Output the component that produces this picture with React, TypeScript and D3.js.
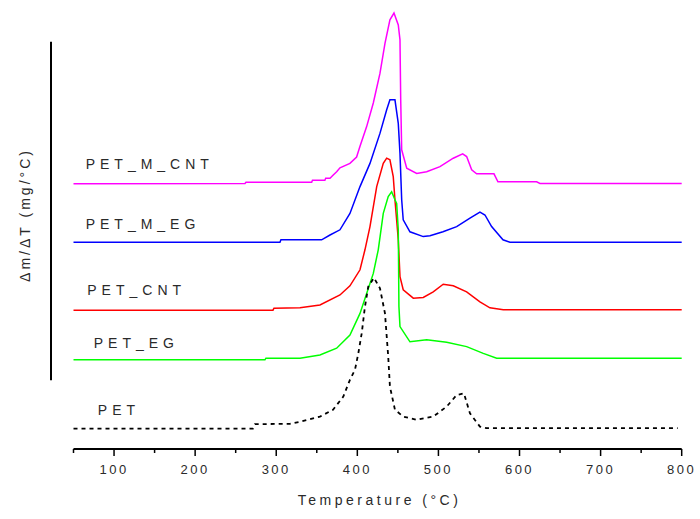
import React from "react";
import * as d3 from "d3";

type P = [number, number];

// Temperature (°C), dm/dT (arbitrary offset units)
const PET_M_CNT: P[] = [
  [50, 6.63], [261.5, 6.64], [262.7, 6.67], [343.7, 6.67], [344.7, 6.72], [360, 6.72], [361, 6.77],
  [366.3, 6.77], [370.3, 6.85], [374.5, 6.93], [378.6, 7.03], [390.9, 7.14], [399.1, 7.3], [403.3, 7.57],
  [411.5, 8.06], [419.7, 8.65], [427.9, 9.39], [434.1, 10.14], [440.2, 10.73], [445.2, 10.9], [450.5, 10.6],
  [452.6, 10.23], [453.5, 8.73], [454.7, 7.48], [460.9, 7.02], [473.2, 6.89], [485.5, 6.93], [501.9, 7.06],
  [518.3, 7.27], [529.9, 7.38], [534.8, 7.31], [541, 6.98], [547.1, 6.88], [568.5, 6.88], [573.4, 6.68],
  [621.1, 6.68], [625.2, 6.64], [800, 6.64],
];

const PET_M_EG: P[] = [
  [50, 5.17], [304.6, 5.17], [305.8, 5.23], [356, 5.23], [366.3, 5.35], [378.6, 5.48], [390.9, 5.89],
  [403.3, 6.56], [415.6, 7.14], [427.9, 7.89], [436.2, 8.48], [440.2, 8.73], [446.4, 8.73], [450.5, 8.14],
  [452.6, 7.39], [454.7, 6.23], [456.6, 5.73], [464.9, 5.43], [481.3, 5.31], [489.6, 5.33], [505.6, 5.43],
  [522.5, 5.56], [538.9, 5.77], [551.2, 5.92], [557.4, 5.85], [565.6, 5.56], [579.6, 5.23], [588.2, 5.17],
  [800, 5.17],
];

const PET_CNT: P[] = [
  [50, 3.47], [296, 3.47], [297.2, 3.52], [329.3, 3.53], [353.9, 3.6], [378.6, 3.85], [390.9, 4.08],
  [403.3, 4.48], [409.4, 4.98], [415.6, 5.56], [423.9, 6.56], [432, 7.14], [436.2, 7.27], [440.2, 7.23],
  [444.3, 6.81], [446.4, 6.23], [450.5, 5.23], [452.6, 4.31], [456.6, 3.98], [469, 3.77], [481.3, 3.79],
  [493.6, 3.93], [505.9, 4.12], [518.3, 4.08], [534.8, 3.93], [551.2, 3.68], [563.5, 3.53], [580, 3.48],
  [800, 3.48],
];

const PET_EG: P[] = [
  [50, 2.23], [286.1, 2.23], [287.3, 2.27], [329.3, 2.27], [353.9, 2.35], [374.5, 2.52], [390.9, 2.85],
  [403.3, 3.39], [411.5, 3.89], [419.7, 4.39], [425.8, 4.98], [432, 5.89], [438.1, 6.31], [442.3, 6.43],
  [446.4, 6.23], [448.5, 6.14], [450.5, 5.48], [451.3, 3.56], [452.6, 3.06], [464.9, 2.68], [485.5, 2.73],
  [510.2, 2.67], [534.8, 2.56], [555.3, 2.39], [571.8, 2.27], [800, 2.27],
];

const PET: P[] = [
  [50, 0.51], [271.3, 0.51], [273.8, 0.62], [316.9, 0.63], [329.3, 0.68], [353.9, 0.81], [370, 0.98],
  [382.7, 1.31], [390.9, 1.73], [397.1, 1.98], [401.2, 2.39], [405.4, 2.89], [409.4, 3.56], [413.5, 4.06],
  [420.5, 4.28], [427.9, 4.02], [434.1, 3.39], [438.1, 2.31], [440.2, 1.56], [446.4, 0.98], [456.6, 0.81],
  [473.2, 0.73], [493.6, 0.81], [510.2, 1.06], [522.5, 1.35], [531.5, 1.39], [538.9, 0.89], [551.2, 0.56],
  [559.5, 0.52], [795, 0.52],
];

const seriesNames = ["PET_M_CNT", "PET_M_EG", "PET_CNT", "PET_EG", "PET"];
const seriesData = [PET_M_CNT, PET_M_EG, PET_CNT, PET_EG, PET];
const seriesColors = ["#ff00ff", "#0000ff", "#ff0000", "#00ff00", "#000000"];
// label anchor: temperature, value (baseline position)
const labelPos: P[] = [[65, 7.0], [65, 5.5], [67, 3.85], [75, 2.52], [80, 0.85]];

const xMajorTicks = [100, 200, 300, 400, 500, 600, 700, 800];
const xMinorTicks = [50, 150, 250, 350, 450, 550, 650, 750];
const xDomain: [number, number] = [50, 800];
const yDomain: [number, number] = [0, 10.9];
const yAxisExtent: [number, number] = [1.72, 10.18];

export default function App() {
  const W = 700, H = 519;
  const x = d3.scaleLinear().domain(xDomain).range([73.5, 681.7]);
  const y = d3.scaleLinear().domain(yDomain).range([449, 13]);
  const line = d3.line<P>().x((d) => x(d[0])).y((d) => y(d[1]));
  const axisY = y(0);
  const font = "'Liberation Sans', Arial, sans-serif";
  const textColor = "#2a2a2a";

  return (
    <svg width={W} height={H} style={{ position: "absolute", left: 0, top: 0, background: "#fff" }}>
      {seriesData.map((d, i) => (
        <path
          key={seriesNames[i]}
          d={line(d) || ""}
          fill="none"
          stroke={seriesColors[i]}
          strokeWidth={i === 4 ? 1.8 : 1.5}
          strokeDasharray={i === 4 ? "4,4" : undefined}
        />
      ))}
      {seriesNames.map((n, i) => (
        <text
          key={n}
          x={x(labelPos[i][0])}
          y={y(labelPos[i][1])}
          fontFamily={font}
          fontSize={14}
          letterSpacing={5}
          fill={textColor}
        >
          {n}
        </text>
      ))}
      {/* x axis */}
      <line x1={x(xDomain[0])} x2={x(xDomain[1])} y1={axisY} y2={axisY} stroke="#000" strokeWidth={1.8} />
      {xMajorTicks.map((t) => (
        <g key={t}>
          <line x1={x(t)} x2={x(t)} y1={axisY} y2={axisY + 7} stroke="#000" strokeWidth={1.5} />
          <text
            x={x(t)}
            y={axisY + 25}
            textAnchor="middle"
            fontFamily={font}
            fontSize={13}
            letterSpacing={2.5}
            fill={textColor}
          >
            {t}
          </text>
        </g>
      ))}
      {xMinorTicks.map((t) => (
        <line key={t} x1={x(t)} x2={x(t)} y1={axisY} y2={axisY + 4} stroke="#000" strokeWidth={1.5} />
      ))}
      <text
        x={x(xDomain[0]) + (x(xDomain[1]) - x(xDomain[0])) / 2 + 2}
        y={505}
        textAnchor="middle"
        fontFamily={font}
        fontSize={14}
        letterSpacing={3.5}
        fill={textColor}
      >
        Temperature (°C)
      </text>
      {/* y axis */}
      <line x1={51} x2={51} y1={y(yAxisExtent[1])} y2={y(yAxisExtent[0])} stroke="#000" strokeWidth={2} />
      <text
        transform={`translate(30, ${215}) rotate(-90)`}
        textAnchor="middle"
        fontFamily={font}
        fontSize={14}
        letterSpacing={3}
        fill={textColor}
      >
        Δm/ΔT (mg/°C)
      </text>
    </svg>
  );
}
